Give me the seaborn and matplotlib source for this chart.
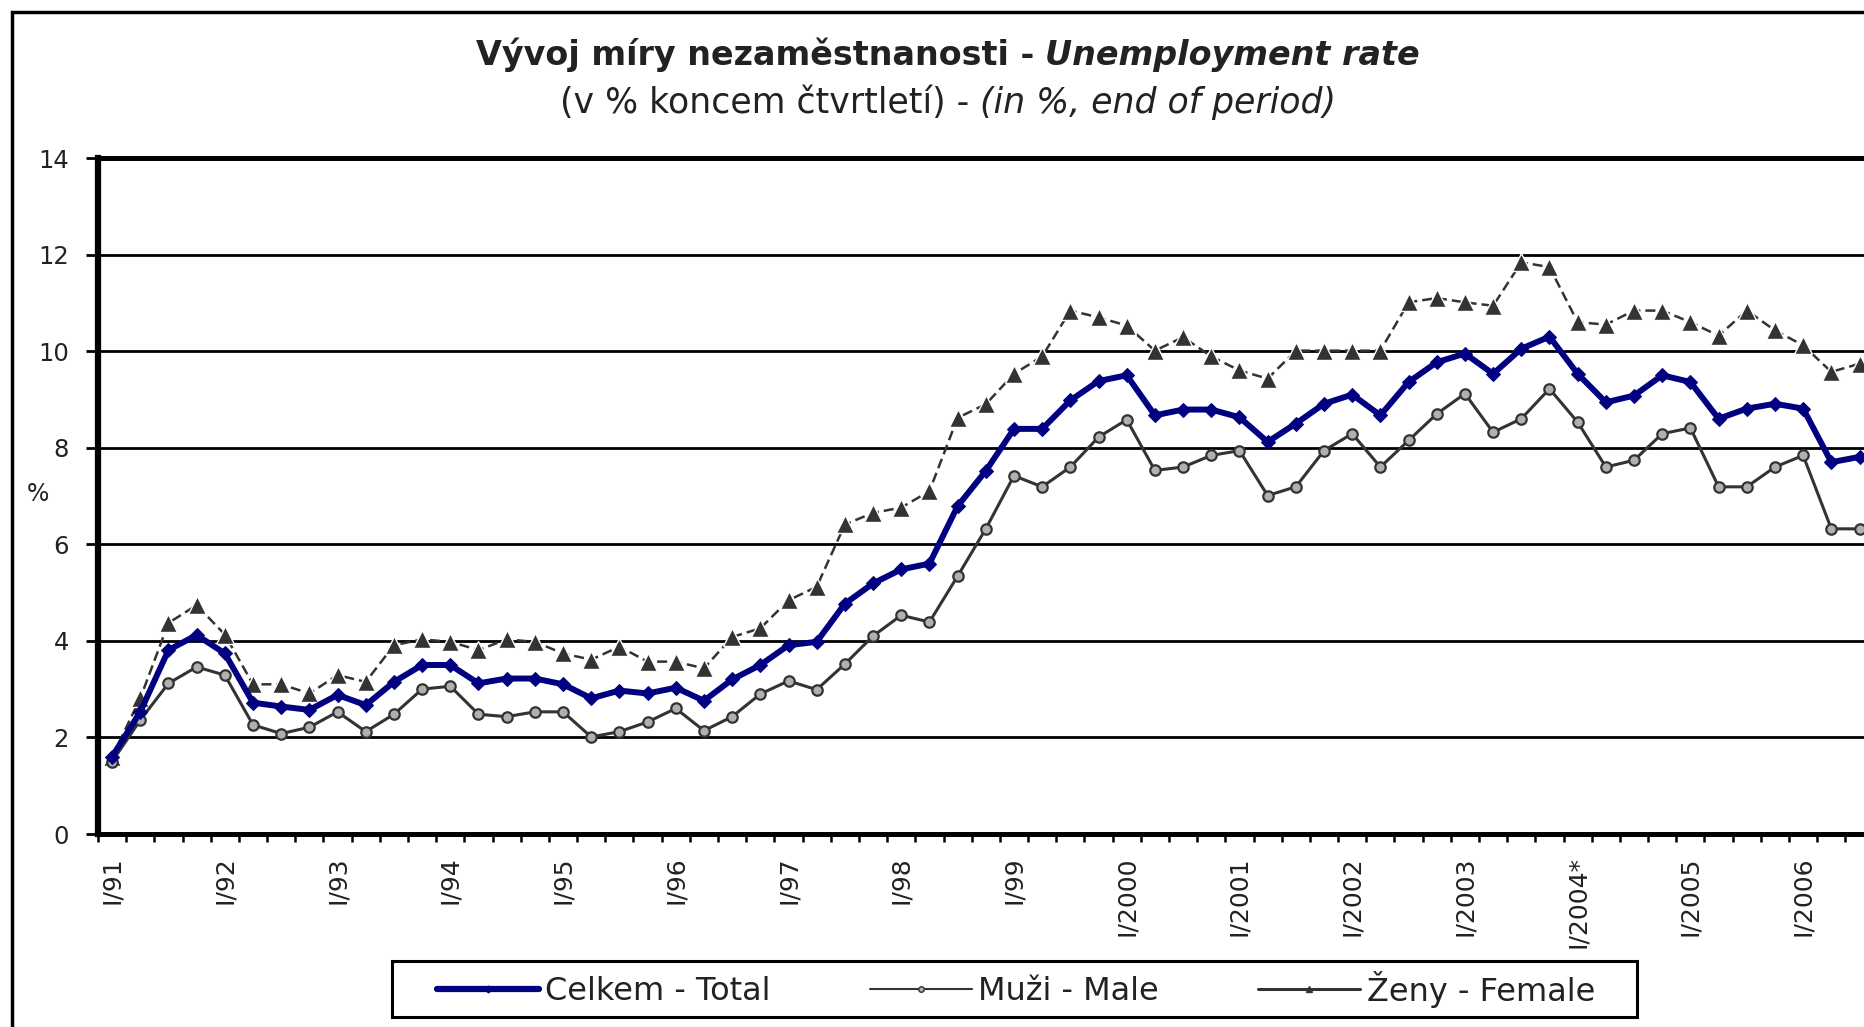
import numpy as np
import pandas as pd
import matplotlib
matplotlib.use("Agg")
import matplotlib.pyplot as plt
from matplotlib.lines import Line2D
from matplotlib.patches import Rectangle
import seaborn as sns

# quarterly unemployment rate, end of quarter, I/1991 .. III/2006
quarters = [f"{q}/{y}" for y in range(1991, 2007) for q in ("I", "II", "III", "IV")][:63]

total = [1.6, 2.53, 3.81, 4.12, 3.74, 2.72, 2.64, 2.57, 2.88, 2.67, 3.15, 3.5, 3.5, 3.12, 3.22, 3.22, 3.1,
         2.81, 2.97, 2.91, 3.03, 2.76, 3.2, 3.5, 3.91, 3.98, 4.77, 5.19, 5.48, 5.6, 6.79, 7.52,
         8.39, 8.39, 8.98, 9.38, 9.5, 8.67, 8.79, 8.79, 8.63, 8.12, 8.5, 8.91, 9.1, 8.67, 9.36, 9.77,
         9.95, 9.53, 10.05, 10.3, 9.53, 8.94, 9.08, 9.5, 9.36, 8.6, 8.81, 8.91, 8.81, 7.7, 7.81]
male = [1.5, 2.36, 3.12, 3.46, 3.29, 2.26, 2.08, 2.21, 2.53, 2.12, 2.48, 3.0, 3.06, 2.48, 2.43, 2.53, 2.53,
        2.01, 2.12, 2.32, 2.6, 2.14, 2.43, 2.9, 3.17, 2.99, 3.52, 4.1, 4.53, 4.39, 5.34, 6.32,
        7.42, 7.19, 7.6, 8.22, 8.58, 7.53, 7.6, 7.84, 7.94, 7.01, 7.19, 7.94, 8.29, 7.6, 8.15, 8.7,
        9.12, 8.32, 8.6, 9.22, 8.53, 7.6, 7.74, 8.29, 8.41, 7.19, 7.19, 7.6, 7.84, 6.32, 6.32]
female = [1.6, 2.81, 4.37, 4.74, 4.13, 3.1, 3.1, 2.91, 3.29, 3.15, 3.91, 4.03, 3.98, 3.81, 4.03, 3.98, 3.74,
          3.61, 3.88, 3.57, 3.57, 3.43, 4.08, 4.26, 4.84, 5.12, 6.41, 6.65, 6.76, 7.1, 8.62, 8.9,
          9.53, 9.89, 10.84, 10.7, 10.53, 10.01, 10.29, 9.89, 9.6, 9.43, 10.01, 10.01, 10.01, 10.01, 11.01, 11.1,
          11.01, 10.94, 11.84, 11.74, 10.6, 10.55, 10.84, 10.84, 10.6, 10.32, 10.84, 10.43, 10.12, 9.57, 9.74]

year_labels = ["I/91", "I/92", "I/93", "I/94", "I/95", "I/96", "I/97", "I/98", "I/99",
               "I/2000", "I/2001", "I/2002", "I/2003", "I/2004*", "I/2005", "I/2006"]
legend_labels = ["Celkem - Total", "Muži - Male", "Ženy - Female"]

df = pd.DataFrame({"q": np.arange(len(quarters)), "total": total, "male": male, "female": female})

sns.set_style("white")
plt.rcParams['font.family'] = ['DejaVu Sans']

W, H = 1865, 1027
fig = plt.figure(figsize=(W / 100, H / 100), dpi=100)
ax = fig.add_axes([98 / W, 193 / H, (1873.6 - 98) / W, 676 / H])

navy = "#000080"
dark = "#333333"

sns.lineplot(data=df, x="q", y="female", ax=ax, color=dark, linewidth=1.8,
             linestyle=(0, (4, 2)), marker="^", markersize=13,
             markerfacecolor=dark, markeredgecolor="white", markeredgewidth=1.0, zorder=3)
sns.lineplot(data=df, x="q", y="male", ax=ax, color=dark, linewidth=2.2,
             marker="o", markersize=7.5, markerfacecolor="#b0b0b0",
             markeredgecolor=dark, markeredgewidth=1.6, zorder=4)
sns.lineplot(data=df, x="q", y="total", ax=ax, color=navy, linewidth=4.3,
             marker="D", markersize=7, markerfacecolor=navy,
             markeredgecolor=navy, zorder=5)

ax.set_xlim(-0.5, 62.5)
ax.set_ylim(0, 14)
ax.set_yticks(np.arange(0, 15, 2))
ax.set_yticklabels([str(v) for v in range(0, 15, 2)])
ax.set_xticks(np.arange(0, 63, 4))
ax.set_xticklabels(year_labels, rotation=90, va="top", ha="center")
ax.set_xticks(np.arange(-0.5, 63, 1), minor=True)
ax.set_xlabel("")
ax.set_ylabel("")

for v in range(2, 13, 2):
    ax.axhline(v, color="black", linewidth=2, zorder=1)

for side in ("left", "bottom", "top"):
    ax.spines[side].set_visible(True)
    ax.spines[side].set_color("black")
ax.spines["left"].set_linewidth(4.5)
ax.spines["bottom"].set_linewidth(3.6)
ax.spines["top"].set_linewidth(3.6)
ax.spines["right"].set_visible(False)

ax.tick_params(axis="y", which="major", direction="out", length=9, width=2,
               color="black", pad=12, labelsize=17.5, labelcolor="#222222", left=True)
ax.tick_params(axis="x", which="major", length=0, pad=16, labelsize=18, labelcolor="#222222")
ax.tick_params(axis="x", which="minor", direction="out", length=6, width=1.8,
               color="black", bottom=True)

fig.text(38 / W, 1 - 494 / H, "%", fontsize=17, color="#222222", ha="center", va="center")

# outer frame
fig.add_artist(Rectangle((12 / W, -0.2), 1.3, 1.2 - 12 / H, transform=fig.transFigure,
                         fill=False, edgecolor="black", linewidth=2.5))

# two-line title with mixed styles
renderer = fig.canvas.get_renderer()


def title_line(parts, ypx, size):
    texts = [fig.text(0, 1 - ypx / H, s, fontsize=size, fontweight=wt, fontstyle=st,
                      color="#222222", ha="left", va="center") for s, wt, st in parts]
    widths = [t.get_window_extent(renderer).width for t in texts]
    gap = 0.32 * size * 100 / 72
    x = 948 - (sum(widths) + gap * (len(texts) - 1)) / 2
    for t, w in zip(texts, widths):
        t.set_x(x / W)
        x += w + gap


title_line([("Vývoj míry nezaměstnanosti -", "bold", "normal"),
            ("Unemployment rate", "bold", "italic")], 55, 24)
title_line([("(v % koncem čtvrtletí) -", "normal", "normal"),
            ("(in %, end of period)", "normal", "italic")], 103, 25)

# legend: entries without frame, box drawn separately
handles = [
    Line2D([], [], color=navy, linewidth=4.5, marker="D", markersize=3.5),
    Line2D([], [], color=dark, linewidth=1.5, marker="o", markersize=4,
           markerfacecolor="#b0b0b0"),
    Line2D([], [], color=dark, linewidth=2.2, marker="^", markersize=5),
]
leg = fig.legend(handles, legend_labels, loc="center", bbox_to_anchor=(1016 / W, 1 - 989 / H),
                 ncol=3, frameon=False, fontsize=23, handlelength=3.2,
                 handletextpad=0.2, columnspacing=3.1)
for t in leg.get_texts():
    t.set_color("#222222")
fig.add_artist(Rectangle((392 / W, 1 - 1017 / H), 1245 / W, 56 / H, transform=fig.transFigure,
                         fill=False, edgecolor="black", linewidth=2.2))

fig.savefig("out.png", dpi=100)
